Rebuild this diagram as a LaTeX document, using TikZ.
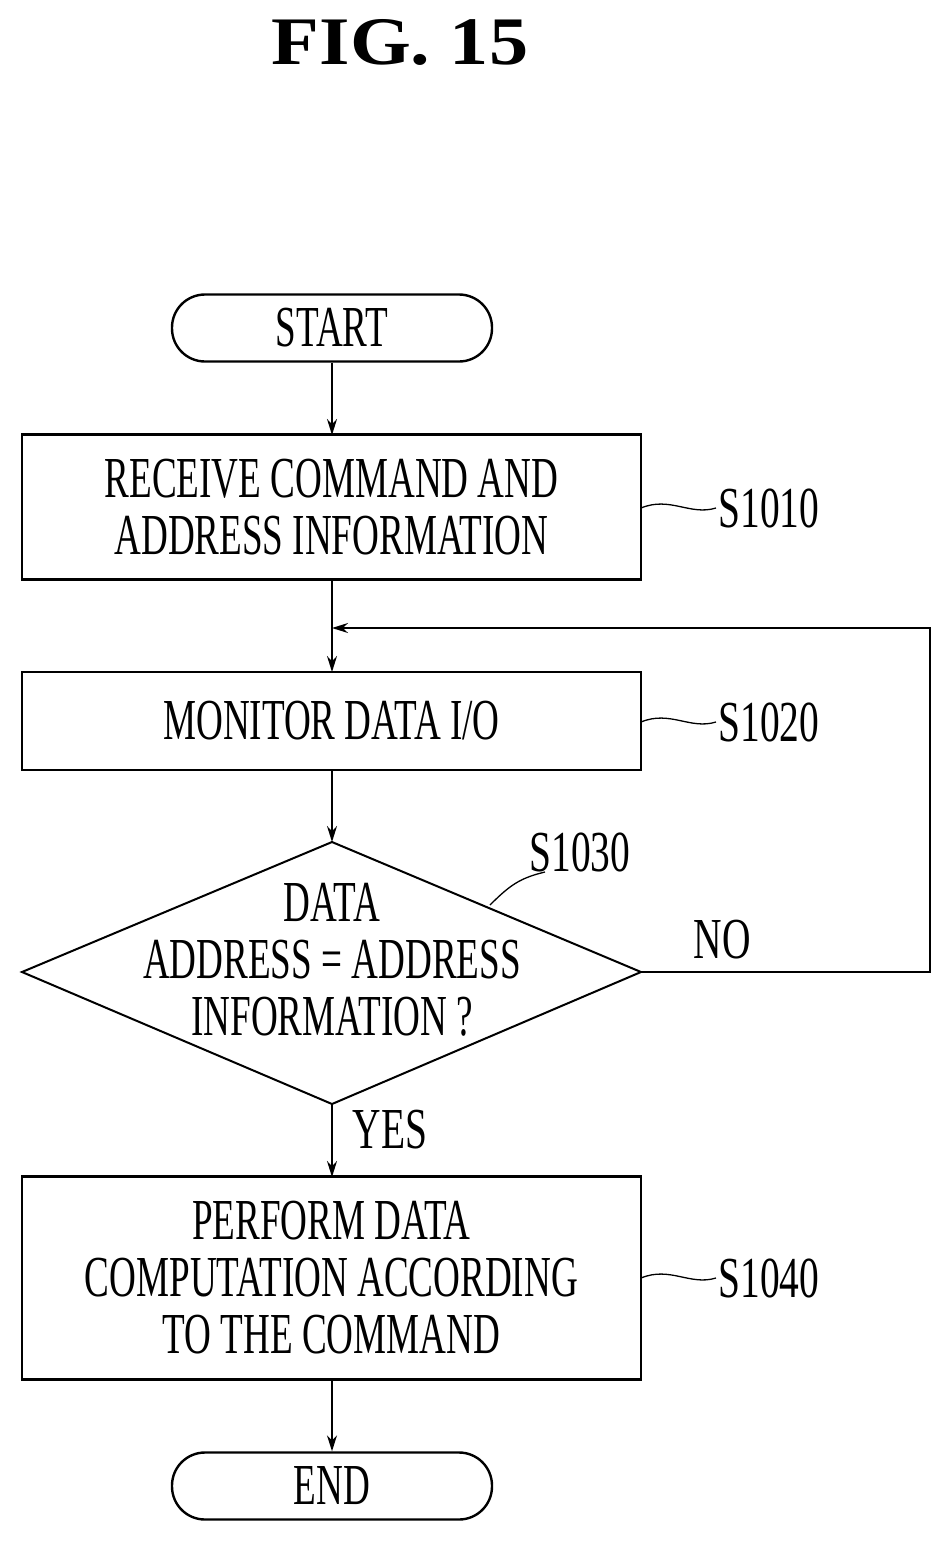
\documentclass[tikz,border=0pt]{standalone}
\usepackage{fontspec}
\setmainfont{Liberation Serif}
\usetikzlibrary{arrows.meta}
\begin{document}
\begin{tikzpicture}[x=1pt,y=-1pt,
  box/.style={draw,line width=2.4pt,minimum width=619pt,inner sep=0pt,align=center},
  term/.style={draw,line width=2.4pt,rounded corners=33pt,minimum width=320pt,minimum height=67pt},
  txt/.style={font=\fontsize{58}{57}\selectfont,xscale=0.64},
  lab/.style={font=\fontsize{58}{60}\selectfont,xscale=0.68},
  arr/.style={-{Stealth[length=16pt,width=10pt]},line width=1.8pt},
  wav/.style={line width=1.3pt}]
\useasboundingbox (0,0) rectangle (951,1545);
\node[font=\bfseries\fontsize{68}{70}\selectfont,xscale=1.15] (title) at (400,42) {FIG. 15};
\node[term] (start) at (332,328) {};
\node[txt] at (start) {START};
\node[box,minimum height=145pt] (b1) at (331.5,507) {};
\node[txt,align=center] at (b1) {RECEIVE COMMAND AND\\ADDRESS INFORMATION};
\node[box,minimum height=98pt] (b2) at (331.5,721) {};
\node[txt] at (b2) {MONITOR DATA I/O};
\draw[line width=2pt] (332,842) coordinate (dt) -- (641,972) coordinate (dr) -- (332,1104) coordinate (db) -- (22,972) coordinate (dl) -- cycle;
\node[txt,align=center] (dtext) at (332,960) {DATA\\ADDRESS = ADDRESS\\INFORMATION ?};
\node[box,minimum height=203pt] (b3) at (331.5,1278) {};
\node[txt,align=center] at (b3) {PERFORM DATA\\COMPUTATION ACCORDING\\TO THE COMMAND};
\node[term] (end) at (332,1486) {};
\node[txt] at (end) {END};
\draw[arr] (start) -- (332,435);
\draw[arr] (332,580) -- (332,672);
\draw[arr] (332,770) -- (dt);
\draw[arr] (db) -- (332,1177);
\draw[arr] (332,1380) -- (end);
\coordinate (fb) at (332,628);
\draw[arr] (dr) -- (930,972) -- (930,628) -- (fb);
\node[lab] at (722,940) {NO};
\node[lab] at (390,1130) {YES};
\node[lab,anchor=west] (s1) at (716,508) {S1010};
\node[lab,anchor=west] (s2) at (716,722) {S1020};
\node[lab,anchor=west] (s4) at (716,1278) {S1040};
\node[lab] (s3) at (580,852) {S1030};
\foreach \y/\n in {508/s1,722/s2,1278/s4}
  \draw[wav] (641,\y) .. controls (670,\y-12) and (690,\y+8) .. (\n.west);
\draw[wav] (490,905) .. controls (510,885) and (520,878) .. (545,872);
\end{tikzpicture}
\end{document}
